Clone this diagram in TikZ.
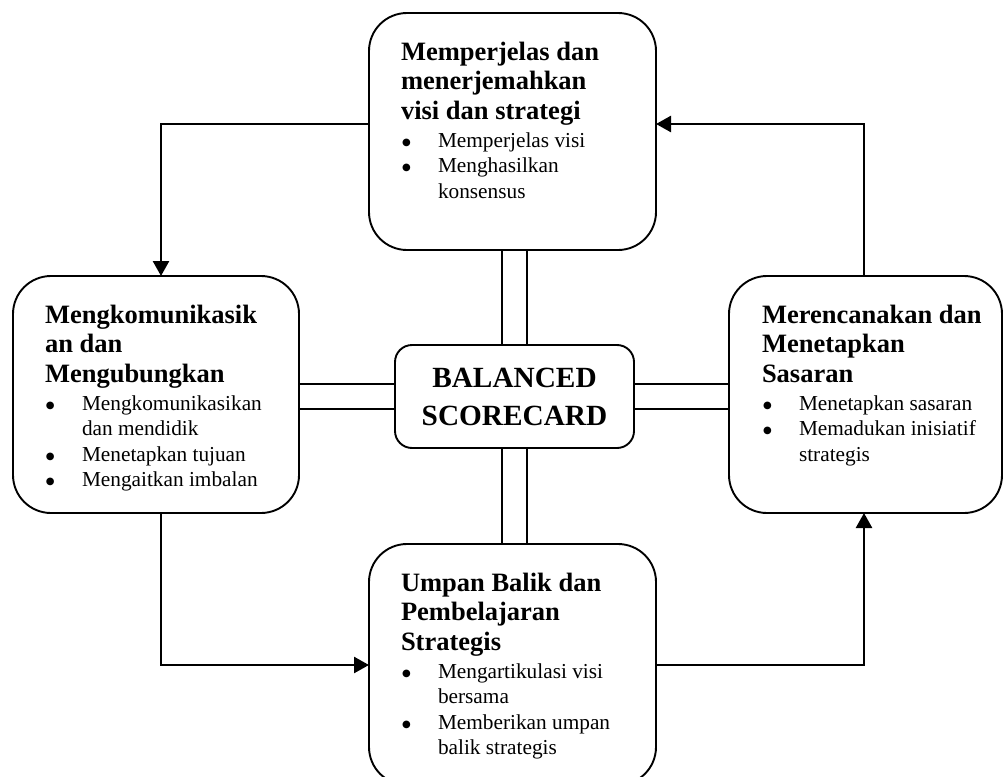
\documentclass[tikz,border=0pt]{standalone}
\usepackage{fontspec}
\setmainfont{Liberation Serif}
\newfontfamily\dvs{DejaVu Sans}
\usetikzlibrary{arrows.meta}
\newcommand\ttlf{\bfseries\fontsize{26.5}{29.5}\selectfont}
\newcommand\itf{\fontsize{21.3}{25.5}\selectfont}
\newcommand\ctrf{\bfseries\fontsize{29.3}{38}\selectfont}
\newcommand\bdot{\raisebox{1.8pt}{\dvs\fontsize{10}{10}\selectfont ●}}
\newcommand\TL[2]{\baselineskip=#1pt\hbox{\ttlf #2}}
\newcommand\BI[2]{\baselineskip=#1pt\hbox{\itf\hspace*{1pt}\makebox[36pt][l]{\bdot}#2}}
\newcommand\BC[2]{\baselineskip=#1pt\hbox{\itf\hspace*{37pt}#2}}
\newcommand\Blk[1]{\vtop{\lineskiplimit=-1000pt #1}}
\tikzset{
  bigbox/.style={draw, line width=1.9pt, rounded corners=38pt, inner sep=0pt, outer sep=0pt},
  ctrbox/.style={draw, line width=1.9pt, rounded corners=17pt, inner sep=0pt, outer sep=0pt},
  txt/.style={inner sep=0pt, outer sep=0pt},
  dbl/.style={line width=1.5pt},
  conn/.style={line width=2.5pt, -{Triangle[length=15pt,width=16pt]}},
}
\begin{document}
\begin{tikzpicture}[x=1pt,y=-1pt]
\useasboundingbox (0,0) rectangle (1006,776);
% boxes
\node[bigbox, minimum width=287pt, minimum height=237pt] (top) at (512.5,131.5) {};
\node[bigbox, minimum width=286pt, minimum height=237pt] (left) at (156,394.5) {};
\node[bigbox, minimum width=273pt, minimum height=237pt] (right) at (865.5,394.5) {};
\node[bigbox, minimum width=287pt, minimum height=241pt] (bot) at (512.5,664.5) {};
\node[ctrbox, minimum width=239pt, minimum height=103pt] (ctr) at (514.5,396.5) {};
% texts
\node[txt, anchor=base west] (ttop) at (401,60) {\Blk{%
  \TL{0}{Memperjelas dan}\TL{29.5}{menerjemahkan}\TL{29.5}{visi dan strategi}%
  \BI{28}{Memperjelas visi}\BI{25.5}{Menghasilkan}\BC{25.5}{konsensus}}};
\node[txt, anchor=base west] (tleft) at (45,323) {\Blk{%
  \TL{0}{Mengkomunikasik}\TL{29.5}{an dan}\TL{29.5}{Mengubungkan}%
  \BI{28}{Mengkomunikasikan}\BC{25.5}{dan mendidik}\BI{25.5}{Menetapkan tujuan}\BI{25.5}{Mengaitkan imbalan}}};
\node[txt, anchor=base west] (tright) at (762,323) {\Blk{%
  \TL{0}{Merencanakan dan}\TL{29.5}{Menetapkan}\TL{29.5}{Sasaran}%
  \BI{28}{Menetapkan sasaran}\BI{25.5}{Memadukan inisiatif}\BC{25.5}{strategis}}};
\node[txt, anchor=base west] (tbot) at (401,591) {\Blk{%
  \TL{0}{Umpan Balik dan}\TL{29.5}{Pembelajaran}\TL{29.5}{Strategis}%
  \BI{28}{Mengartikulasi visi}\BC{25.5}{bersama}\BI{25.5}{Memberikan umpan}\BC{25.5}{balik strategis}}};
\node[txt, anchor=base] (tctr) at (514.5,387) {\vtop{\lineskiplimit=-1000pt\baselineskip=38pt
  \hbox to 220pt{\hss\ctrf BALANCED\hss}\hbox to 220pt{\hss\ctrf SCORECARD\hss}}};
% double links
\foreach \s in {-12.5,12.5}{
  \draw[dbl] ([xshift=\s pt]ctr.north) -- ([xshift=\s pt]ctr.north |- top.south);
  \draw[dbl] ([xshift=\s pt]ctr.south) -- ([xshift=\s pt]ctr.south |- bot.north);
  \draw[dbl] ([yshift=\s pt]ctr.west) -- ([yshift=\s pt]ctr.west -| left.east);
  \draw[dbl] ([yshift=\s pt]ctr.east) -- ([yshift=\s pt]ctr.east -| right.west);
}
% connectors
\coordinate (a1) at (161,124);
\coordinate (a2) at (864,124);
\coordinate (a3) at (161,665);
\coordinate (a4) at (864,665);
\draw[conn] (a1 -| top.west) -- (a1) -- (a1 |- left.north);
\draw[conn] (a2 |- right.north) -- (a2) -- (a2 -| top.east);
\draw[conn] (a3 |- left.south) -- (a3) -- (a3 -| bot.west);
\draw[conn] (a4 -| bot.east) -- (a4) -- (a4 |- right.south);
\end{tikzpicture}
\end{document}
